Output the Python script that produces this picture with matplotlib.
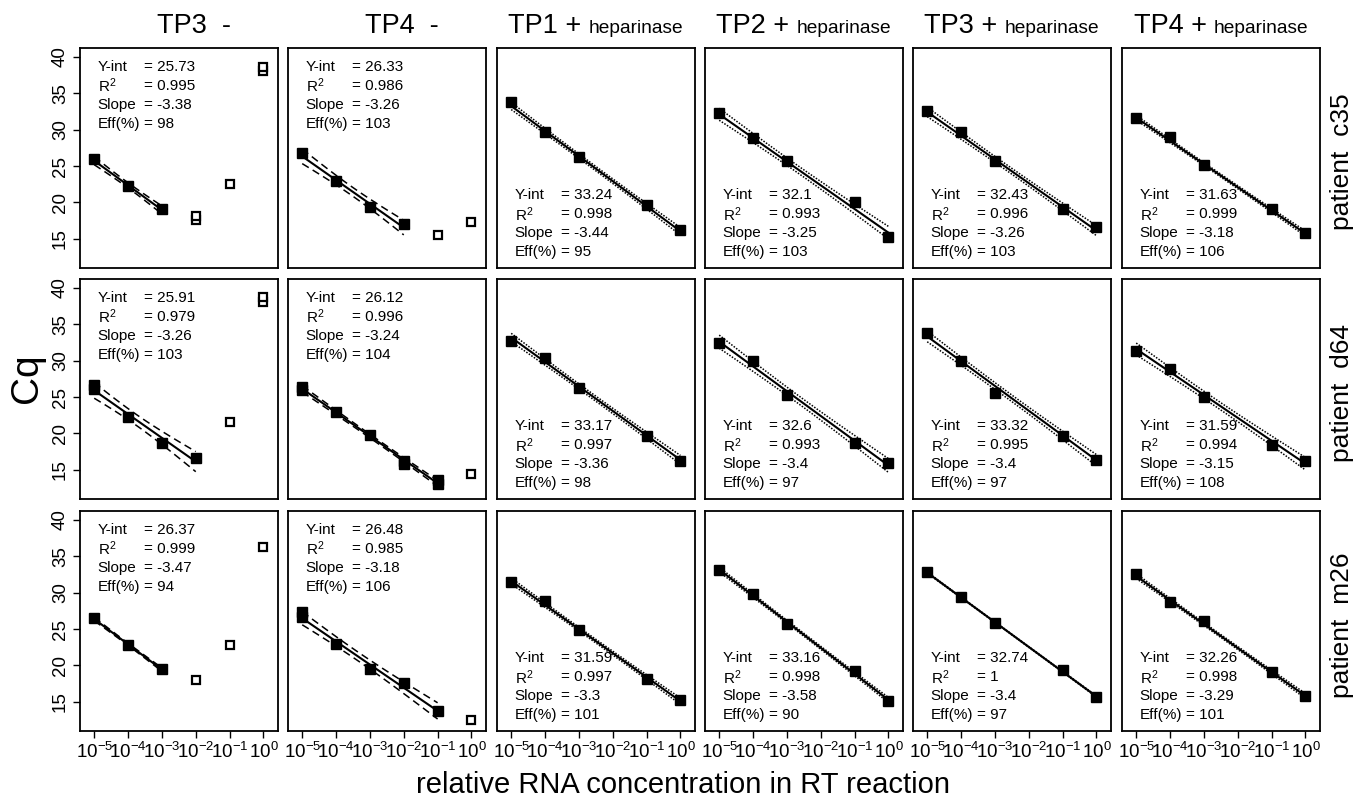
import numpy as np
import matplotlib.pyplot as plt

plt.rcParams['font.family'] = ['Liberation Sans', 'DejaVu Sans']
plt.rcParams['mathtext.fontset'] = 'custom'
plt.rcParams['mathtext.rm'] = 'Liberation Sans'
plt.rcParams['mathtext.it'] = 'Liberation Sans:italic'
plt.rcParams['mathtext.default'] = 'regular'

# row and column labels
patients = ['patient  c35', 'patient  d64', 'patient  m26']
col_main = ['TP3  -', 'TP4  -', 'TP1 +', 'TP2 +', 'TP3 +', 'TP4 +']
col_sub = ['', '', 'heparinase', 'heparinase', 'heparinase', 'heparinase']

# fit statistics printed in each panel (rows = patients, cols = conditions)
yint = [[25.73, 26.33, 33.24, 32.1, 32.43, 31.63],
        [25.91, 26.12, 33.17, 32.6, 33.32, 31.59],
        [26.37, 26.48, 31.59, 33.16, 32.74, 32.26]]
r2 = [[0.995, 0.986, 0.998, 0.993, 0.996, 0.999],
      [0.979, 0.996, 0.997, 0.993, 0.995, 0.994],
      [0.999, 0.985, 0.997, 0.998, 1, 0.998]]
slope = [[-3.38, -3.26, -3.44, -3.25, -3.26, -3.18],
         [-3.26, -3.24, -3.36, -3.4, -3.4, -3.15],
         [-3.47, -3.18, -3.3, -3.58, -3.4, -3.29]]
eff = [[98, 103, 95, 103, 103, 106],
       [103, 104, 98, 97, 97, 108],
       [94, 106, 101, 90, 97, 101]]

# half width of confidence band at the centre of the fit
band = [[0.35, 0.6, 0.3, 0.5, 0.4, 0.2],
        [0.75, 0.25, 0.35, 0.55, 0.45, 0.5],
        [0.15, 0.6, 0.25, 0.2, 0.05, 0.2]]

# dilutions as log10 exponents
hep_exp = [-5, -4, -3, -1, 0]

# points used in the fit
fit_exp = [
    [[-5, -4, -3], [-5, -4, -3, -2], hep_exp, hep_exp, hep_exp, hep_exp],
    [[-5, -5, -4, -3, -2], [-5, -5, -4, -3, -2, -2, -1, -1], hep_exp, hep_exp, hep_exp, hep_exp],
    [[-5, -4, -3], [-5, -5, -4, -3, -2, -1], hep_exp, hep_exp, hep_exp, hep_exp],
]
fit_cq = [
    [[25.9, 22.2, 19.1], [26.8, 23.0, 19.35, 17.1],
     [33.8, 29.65, 26.2, 19.7, 16.2], [32.25, 28.8, 25.75, 20.1, 15.2],
     [32.6, 29.7, 25.7, 19.1, 16.6], [31.65, 29.0, 25.2, 19.1, 15.8]],
    [[26.6, 26.1, 22.3, 18.75, 16.6], [26.4, 25.9, 22.9, 19.8, 16.2, 15.8, 13.6, 13.0],
     [32.75, 30.3, 26.3, 19.6, 16.2], [32.4, 30.0, 25.3, 18.65, 16.0],
     [33.75, 30.0, 25.6, 19.7, 16.4], [31.35, 28.9, 24.95, 18.35, 16.15]],
    [[26.5, 22.8, 19.5], [27.3, 26.6, 22.9, 19.5, 17.6, 13.8],
     [31.4, 28.8, 24.9, 18.15, 15.3], [33.1, 29.85, 25.75, 19.2, 15.1],
     [32.8, 29.45, 25.8, 19.35, 15.7], [32.5, 28.7, 26.05, 19.15, 15.8]],
]

# excluded points (open squares)
out_exp = [
    [[-2, -2, -1, 0, 0], [-1, 0], [], [], [], []],
    [[-1, 0, 0], [0], [], [], [], []],
    [[-2, -1, 0], [0], [], [], [], []],
]
out_cq = [
    [[17.6, 18.1, 22.5, 38.1, 38.6], [15.5, 17.3], [], [], [], []],
    [[21.55, 38.1, 38.7], [14.4], [], [], [], []],
    [[17.95, 22.8, 36.3], [12.45], [], [], [], []],
]

W, H = 1368, 801
fig = plt.figure(figsize=(W / 100, H / 100), dpi=100)

lefts = [80, 288, 497, 705, 913, 1122]
tops = [48, 279, 511]
pw, ph = 198, 220

for r in range(3):
    for c in range(6):
        ax = fig.add_axes([lefts[c] / W, 1 - (tops[r] + ph) / H, pw / W, ph / H])
        ax.set_xscale('log')
        ax.set_xlim(10 ** -5.42, 10 ** 0.43)
        ax.set_ylim(11.0, 41.2)

        fe = np.array(fit_exp[r][c], dtype=float)
        fy = np.array(fit_cq[r][c])
        xs = np.linspace(fe.min(), fe.max(), 100)
        yhat = yint[r][c] + slope[r][c] * (xs + 5)
        xbar = fe.mean()
        sxx = ((fe - xbar) ** 2).sum()
        half = band[r][c] * np.sqrt(1 + len(fe) * (xs - xbar) ** 2 / sxx)

        ls = (0, (5, 3)) if c < 2 else (0, (1, 1))
        ax.plot(10 ** xs, yhat, color='black', lw=1.5)
        ax.plot(10 ** xs, yhat + half, color='black', lw=1.1, ls=ls)
        ax.plot(10 ** xs, yhat - half, color='black', lw=1.1, ls=ls)
        ax.plot(10 ** fe, fy, 's', color='black', ms=6.5)
        if out_exp[r][c]:
            ax.plot(10 ** np.array(out_exp[r][c], dtype=float), out_cq[r][c], 's',
                    mfc='white', mec='black', mew=1.6, ms=6)

        # annotation block
        x0 = 0.09
        y0 = 0.914 if c < 2 else 0.33
        dy = 0.086
        labels = ['Y-int', 'R$^2$', 'Slope', 'Eff(%)']
        vals = [f'{yint[r][c]:g}', f'{r2[r][c]:g}', f'{slope[r][c]:g}', f'{eff[r][c]}']
        for i in range(4):
            ax.text(x0, y0 - i * dy, labels[i], transform=ax.transAxes,
                    fontsize=11, va='center', ha='left')
            ax.text(x0 + 0.232, y0 - i * dy, '= ' + vals[i], transform=ax.transAxes,
                    fontsize=11, va='center', ha='left')

        ax.set_xticks([1e-5, 1e-4, 1e-3, 1e-2, 1e-1, 1e0])
        ax.xaxis.set_minor_locator(plt.NullLocator())
        ax.set_yticks([15, 20, 25, 30, 35, 40])
        ax.tick_params(direction='out', length=5, width=1, labelsize=13.5, pad=3)
        ax.tick_params(axis='y', labelrotation=90)
        for t in ax.get_yticklabels():
            t.set_va('center')
        if r < 2:
            ax.tick_params(axis='x', bottom=False, labelbottom=False)
        if c > 0:
            ax.tick_params(axis='y', left=False, labelleft=False)
        for s in ax.spines.values():
            s.set_linewidth(1.3)

# column titles
for c in range(6):
    if col_sub[c]:
        ax_x = (lefts[c] + 92) / W
        fig.text(ax_x, 1 - 33 / H, col_main[c] + ' ', fontsize=19.5, ha='right', va='baseline')
        fig.text(ax_x, 1 - 33 / H, col_sub[c], fontsize=13.8, ha='left', va='baseline')
    else:
        fig.text((lefts[c] + pw / 2 + 15) / W, 1 - 33 / H, col_main[c], fontsize=19.5,
                 ha='center', va='baseline')

# row labels
for r in range(3):
    fig.text(1342 / W, 1 - (tops[r] + ph / 2 + 4) / H, patients[r], fontsize=19,
             rotation=90, ha='center', va='center')

fig.text(27 / W, 1 - 378 / H, 'Cq', fontsize=28, rotation=90, ha='center', va='center')
fig.text(683 / W, 1 - 785 / H, 'relative RNA concentration in RT reaction', fontsize=21,
         ha='center', va='center')

fig.savefig('out.png', dpi=100)
